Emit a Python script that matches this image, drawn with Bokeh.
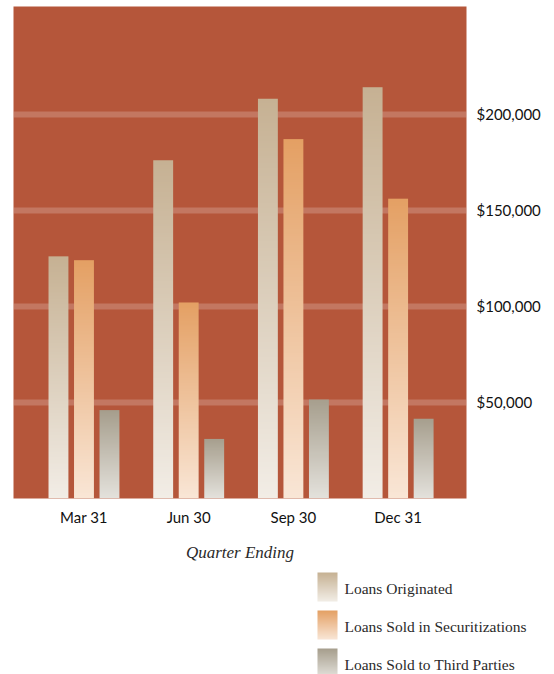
import numpy as np
from bokeh.plotting import figure
from bokeh.layouts import column, row
from bokeh.models import Range1d, FixedTicker, NumeralTickFormatter, ColumnDataSource
from bokeh.core.properties import value
from bokeh.embed import file_html
from bokeh.resources import INLINE

# ---- data ----
quarters = ["Mar 31", "Jun 30", "Sep 30", "Dec 31"]
series_names = ["Loans Originated", "Loans Sold in Securitizations", "Loans Sold to Third Parties"]
loans_originated = [126000, 176000, 208000, 214000]
loans_securitized = [124000, 102000, 187000, 156000]
loans_third_parties = [46000, 31000, 51500, 41500]
y_ticks = [50000, 100000, 150000, 200000]

# ---- style ----
BG = "#b5563a"
TOP_COLORS = [(198, 177, 147), (228, 160, 100), (166, 158, 141)]
BOTTOM_COLORS = [(242, 237, 230), (249, 230, 214), (228, 226, 220)]
OFFSETS = [-0.2436, 0.0, 0.2436]
BAR_W = 0.19
TEXT_COLOR = "#111111"


def gradient(bottom, top, n=160):
    t = np.linspace(0.0, 1.0, n)[:, None]
    b = np.array(bottom, dtype=float)
    tp = np.array(top, dtype=float)
    rgb = np.round(b * (1 - t) + tp * t).astype(np.uint8)
    img = np.empty((n, 1, 4), dtype=np.uint8)
    img[:, 0, :3] = rgb
    img[:, 0, 3] = 255
    return img.view(np.uint32).reshape(n, 1)


grads = [gradient(b, t) for b, t in zip(BOTTOM_COLORS, TOP_COLORS)]
values = [loans_originated, loans_securitized, loans_third_parties]

p = figure(frame_width=453, frame_height=492,
           x_range=Range1d(-0.673, 3.653), y_range=Range1d(0, 256000),
           y_axis_location="right",
           output_backend="svg", toolbar_location=None,
           min_border_left=13, min_border_right=72, min_border_top=6, min_border_bottom=10)
p.background_fill_color = BG
p.border_fill_color = "white"
p.outline_line_color = None

for s, vals in enumerate(values):
    xs = [i + OFFSETS[s] - BAR_W / 2 for i in range(len(quarters))]
    src = ColumnDataSource(dict(image=[grads[s]] * len(vals), x=xs, y=[0] * len(vals),
                                dw=[BAR_W] * len(vals), dh=vals))
    p.image_rgba(image="image", x="x", y="y", dw="dw", dh="dh", source=src)

# axes
p.xaxis.ticker = FixedTicker(ticks=list(range(len(quarters))))
p.xaxis.major_label_overrides = {i: q for i, q in enumerate(quarters)}
p.xaxis.axis_line_color = None
p.xaxis.major_tick_line_color = None
p.xaxis.minor_tick_line_color = None
p.xaxis.major_label_text_font = "Lato"
p.xaxis.major_label_text_font_size = "15px"
p.xaxis.major_label_text_color = TEXT_COLOR
p.xaxis.major_label_standoff = 3
p.xaxis.axis_label = "Quarter Ending"
p.xaxis.axis_label_text_font = "Liberation Serif"
p.xaxis.axis_label_text_font_style = "italic"
p.xaxis.axis_label_text_font_size = "17px"
p.xaxis.axis_label_text_color = "#2a2a2a"
p.xaxis.axis_label_standoff = 14

yt = FixedTicker(ticks=y_ticks)
p.yaxis.ticker = yt
p.yaxis.formatter = NumeralTickFormatter(format="$0,0")
p.yaxis.axis_line_color = None
p.yaxis.major_tick_line_color = None
p.yaxis.minor_tick_line_color = None
p.yaxis.major_tick_out = 0
p.yaxis.major_tick_in = 0
p.yaxis.minor_tick_out = 0
p.yaxis.major_label_text_font = "Lato"
p.yaxis.major_label_text_font_size = "15px"
p.yaxis.major_label_text_color = TEXT_COLOR
p.yaxis.major_label_standoff = 10

p.xgrid.visible = False
p.ygrid.ticker = yt
p.ygrid.grid_line_color = "white"
p.ygrid.grid_line_alpha = 0.2
p.ygrid.grid_line_width = 6

# ---- legend figure (units: page pixels, y measured downward as negative) ----
LEG_W, LEG_TOP, LEG_H = 538, 563, 110
SW_X, SW_W, SW_H = 317, 20, 29
SW_TOP0, SW_STEP, TX_X = 571, 38, 344
leg = figure(width=LEG_W, height=LEG_H,
             x_range=Range1d(0, LEG_W), y_range=Range1d(-(LEG_TOP + LEG_H), -LEG_TOP),
             output_backend="svg", toolbar_location=None, min_border=0)
leg.axis.visible = False
leg.grid.visible = False
leg.outline_line_color = None
leg.background_fill_color = "white"
for i, name in enumerate(series_names):
    top = SW_TOP0 + i * SW_STEP
    leg.image_rgba(image=[grads[i]], x=SW_X, y=-(top + SW_H), dw=SW_W, dh=SW_H)
    leg.text(x=[TX_X], y=[-(top + SW_H / 2 + 1.5)], text=[name],
             text_baseline="middle", text_align="left",
             text_font=value("Liberation Serif"), text_font_size="15.5px",
             text_color="#2a2a2a")

layout = column(p, row(leg), spacing=0)
open("out.html", "w").write(file_html(layout, INLINE))
